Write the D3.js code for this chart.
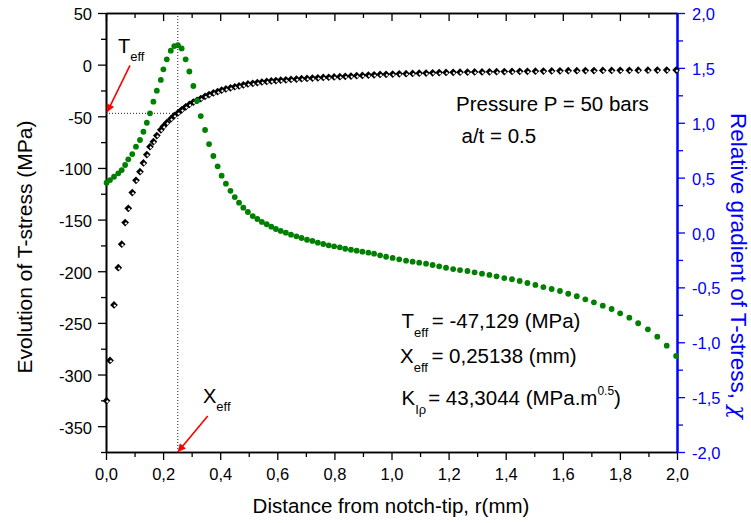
<!DOCTYPE html>
<html><head><meta charset="utf-8">
<script src="https://cdn.jsdelivr.net/npm/d3@7"></script>
<style>
body{margin:0;background:#fff}
text{font-family:"Liberation Sans",Arial,sans-serif}
</style>
</head><body>
<svg id="c" width="751" height="523"></svg>
<script>
// ---- data ----
const rValues = [0.002,0.014,0.028,0.043,0.055,0.067,0.078,0.092,0.105,0.119,0.131,0.143,0.154,0.166,0.178,0.192,0.201,0.213,
  0.227,0.239,0.252,0.265,0.279,0.292,0.306,0.319,0.332,0.347,0.361,0.376,0.391,0.405,0.420,0.436,0.451,0.466,0.481,0.497,0.514,0.530,
  0.546,0.563,0.579,0.595,0.612,0.630,0.648,0.667,0.685,0.704,0.723,0.742,0.761,0.780,0.799,0.819,0.838,0.858,0.878,0.898,0.919,0.939,
  0.960,0.981,1.004,1.027,1.051,1.074,1.097,1.121,1.144,1.167,1.191,1.216,1.240,1.266,1.291,1.317,1.343,1.368,1.395,1.422,
  1.449,1.476,1.504,1.532,1.561,1.590,1.619,1.649,1.679,1.709,1.740,1.771,1.801,1.833,1.864,1.898,1.931,1.964,1.997];
const tStress = [-325.3,-286.3,-232.6,-196.6,-173.8,-152.9,-139.1,-123.8,-112.0,-103.6,-95.2,-87.0,-79.4,-74.6,-68.6,-63.1,-59.8,-56.2,
  -52.5,-49.3,-46.7,-43.7,-40.8,-38.5,-36.2,-34.5,-32.8,-30.6,-29.0,-27.4,-26.1,-24.7,-23.5,-22.4,-21.4,-20.6,-19.7,-18.7,-18.1,-17.4,
  -16.8,-16.3,-15.8,-15.4,-15.1,-14.7,-14.3,-13.9,-13.6,-13.3,-13.0,-12.7,-12.4,-12.2,-11.9,-11.6,-11.3,-11.0,-10.7,-10.4,-10.1,-9.8,
  -9.5,-9.3,-9.1,-8.9,-8.7,-8.5,-8.3,-8.1,-7.9,-7.7,-7.5,-7.4,-7.3,-7.2,-7.1,-7.0,-6.9,-6.8,-6.7,-6.6,
  -6.5,-6.4,-6.3,-6.2,-6.1,-6.0,-5.9,-5.8,-5.7,-5.7,-5.6,-5.6,-5.5,-5.5,-5.4,-5.4,-5.3,-5.3,-5.2];
const chiGradient = [0.454,0.478,0.508,0.539,0.569,0.615,0.667,0.715,0.782,0.843,0.918,1.000,1.086,1.192,1.292,1.390,1.487,1.578,
  1.657,1.699,1.706,1.677,1.578,1.467,1.335,1.201,1.061,0.934,0.806,0.697,0.603,0.518,0.445,0.380,0.323,0.272,0.226,0.187,0.150,0.123,
  0.096,0.075,0.053,0.032,0.014,-0.002,-0.020,-0.035,-0.050,-0.066,-0.077,-0.093,-0.105,-0.117,-0.126,-0.135,-0.148,-0.157,-0.166,-0.175,-0.184,-0.193,
  -0.208,-0.221,-0.232,-0.244,-0.257,-0.266,-0.275,-0.284,-0.296,-0.308,-0.321,-0.333,-0.342,-0.351,-0.363,-0.375,-0.387,-0.399,-0.415,-0.426,
  -0.442,-0.460,-0.478,-0.497,-0.515,-0.533,-0.558,-0.581,-0.609,-0.636,-0.667,-0.697,-0.736,-0.776,-0.827,-0.882,-0.949,-1.031,-1.125];
const xTickValues = [0,0.2,0.4,0.6,0.8,1.0,1.2,1.4,1.6,1.8,2.0];
const xMinorValues = [0.1,0.3,0.5,0.7,0.9,1.1,1.3,1.5,1.7,1.9];
const yLeftTicks = [-350,-300,-250,-200,-150,-100,-50,0,50];
const yLeftMinor = [-375,-325,-275,-225,-175,-125,-75,-25,25];
const yRightTicks = [-2,-1.5,-1,-0.5,0,0.5,1,1.5,2];
const yRightMinor = [-1.75,-1.25,-0.75,-0.25,0.25,0.75,1.25,1.75];
const tEff = -47.129, xEff = 0.25138;

// ---- layout ----
const P = {l:106, r:677, t:13, b:452};
const x = d3.scaleLinear().domain([0,2]).range([P.l,P.r]);
const yL = d3.scaleLinear().domain([-375,50]).range([P.b,P.t]);
const yR = d3.scaleLinear().domain([-2,2]).range([P.b,P.t]);
const svg = d3.select('#c');
const fmt1 = d => d3.format('.1f')(d).replace('.',',').replace('\u2212','-');
const fmt0 = d => String(d);
const blue = '#0000ff', green = '#008000';
const TF = 16.5;

function styleAxis(g, color, fs){
  g.select('.domain').attr('stroke',color).attr('stroke-width',1.6);
  g.selectAll('.tick line').attr('stroke',color).attr('stroke-width',1.3);
  g.selectAll('.tick text').attr('fill',color).style('font-size',fs+'px')
    .style('font-family','"Liberation Sans",Arial,sans-serif');
}

// bottom axis
let g = svg.append('g').attr('transform',`translate(0,${P.b})`)
  .call(d3.axisBottom(x).tickValues(xTickValues).tickSize(8).tickSizeOuter(0).tickPadding(8).tickFormat(fmt1));
styleAxis(g,'#000',TF);
g = svg.append('g').attr('transform',`translate(0,${P.b})`)
  .call(d3.axisBottom(x).tickValues(xMinorValues).tickSize(5).tickSizeOuter(0).tickFormat(''));
styleAxis(g,'#000',TF);
// top axis (inward ticks)
g = svg.append('g').attr('transform',`translate(0,${P.t})`)
  .call(d3.axisBottom(x).tickValues(xTickValues).tickSize(8).tickSizeOuter(0).tickFormat(''));
styleAxis(g,'#000',TF);
g = svg.append('g').attr('transform',`translate(0,${P.t})`)
  .call(d3.axisBottom(x).tickValues(xMinorValues).tickSize(5).tickSizeOuter(0).tickFormat(''));
styleAxis(g,'#000',TF);
// left axis
g = svg.append('g').attr('transform',`translate(${P.l},0)`)
  .call(d3.axisLeft(yL).tickValues(yLeftTicks).tickSize(8).tickSizeOuter(0).tickPadding(6).tickFormat(fmt0));
styleAxis(g,'#000',TF);
g.selectAll('.tick text').attr('dy','0.42em');
g = svg.append('g').attr('transform',`translate(${P.l},0)`)
  .call(d3.axisLeft(yL).tickValues(yLeftMinor).tickSize(5).tickSizeOuter(0).tickFormat(''));
styleAxis(g,'#000',TF);
// right axis (blue)
g = svg.append('g').attr('transform',`translate(${P.r},0)`)
  .call(d3.axisRight(yR).tickValues(yRightTicks).tickSize(8).tickSizeOuter(0).tickPadding(7).tickFormat(fmt1));
styleAxis(g,blue,TF);
g.select('.domain').attr('stroke-width',2);
g.selectAll('.tick text').attr('dy','0.4em');
g = svg.append('g').attr('transform',`translate(${P.r},0)`)
  .call(d3.axisRight(yR).tickValues(yRightMinor).tickSize(6).tickSizeOuter(0).tickFormat(''));
styleAxis(g,blue,TF);
g.select('.domain').attr('stroke-width',2);

// dotted guide lines
svg.append('line').attr('x1',x(xEff)).attr('x2',x(xEff)).attr('y1',yL(50)).attr('y2',yL(-375))
  .attr('stroke','#222').attr('stroke-width',1).attr('stroke-dasharray','1,2');
svg.append('line').attr('x1',x(0)).attr('x2',x(xEff)).attr('y1',yL(tEff)).attr('y2',yL(tEff))
  .attr('stroke','#222').attr('stroke-width',1).attr('stroke-dasharray','1,2');

// T-stress diamonds
const pts = rValues.map((r,i)=>({r, t:tStress[i], c:chiGradient[i]}));
const outer = d3.symbol().type(d3.symbolSquare).size(30)();
const inner = d3.symbol().type(d3.symbolSquare).size(4)();
const dg = svg.append('g');
dg.selectAll('path.o').data(pts).join('path').attr('class','o').attr('d',outer)
  .attr('transform',d=>`translate(${x(d.r)},${yL(d.t)}) rotate(45)`).attr('fill','#000');
dg.selectAll('path.i').data(pts).join('path').attr('class','i').attr('d',inner)
  .attr('transform',d=>`translate(${x(d.r)+0.8},${yL(d.t)+0.8}) rotate(45)`).attr('fill','#fff');

// relative gradient circles
svg.append('g').selectAll('circle').data(pts).join('circle')
  .attr('cx',d=>x(d.r)).attr('cy',d=>yR(d.c)).attr('r',2.9).attr('fill',green);

// axis titles
svg.append('text').attr('x',391).attr('y',513).attr('text-anchor','middle')
  .style('font-size','20.5px').text('Distance from notch-tip, r(mm)');
svg.append('text').attr('transform','translate(32,247) rotate(-90)').attr('text-anchor','middle')
  .style('font-size','21px').text('Evolution of T-stress (MPa)');
const rt = svg.append('text').attr('transform','translate(731,266) rotate(90)').attr('text-anchor','middle')
  .attr('fill',blue).style('font-size','22.5px');
rt.append('tspan').text('Relative gradient of T-stress, ');
rt.append('tspan').style('font-family','"DejaVu Serif",serif').style('font-style','italic').text('\u03C7');

// arrows
const defs = svg.append('defs');
defs.append('marker').attr('id','ah').attr('viewBox','0 0 10 10').attr('refX',10).attr('refY',5)
  .attr('markerWidth',10).attr('markerHeight',8).attr('markerUnits','userSpaceOnUse').attr('orient','auto')
  .append('path').attr('d','M0,0 L10,5 L0,10 Z').attr('fill','#ff0000');
function arrow(tx,ty,dx,dy){
  svg.append('line').attr('x1',tx+dx).attr('y1',ty+dy).attr('x2',tx).attr('y2',ty)
    .attr('stroke','#ff0000').attr('stroke-width',1.6).attr('marker-end','url(#ah)');
}
arrow(x(0)+1, yL(tEff)-1, 23, -47);
arrow(x(xEff), yL(-375), 30, -36);

// labels
function subLabel(xp, yp, main, sub, rest, fs, sfs, sdy){
  const t = svg.append('text').attr('x',xp).attr('y',yp).style('font-size',fs+'px');
  t.append('tspan').text(main);
  t.append('tspan').attr('dy',sdy).style('font-size',sfs+'px').text(sub);
  if (rest) t.append('tspan').attr('dy',-sdy).attr('dx',3.5).text(rest);
  return t;
}
subLabel(118, 53, 'T', 'eff', null, 20, 13, 8);
subLabel(203, 403, 'X', 'eff', null, 20, 13, 8);

svg.append('text').attr('x',456).attr('y',110.5).style('font-size','20.5px').text('Pressure P = 50 bars');
svg.append('text').attr('x',461.5).attr('y',142.5).style('font-size','20.5px').text('a/t = 0.5');

subLabel(401.5, 327.5, 'T', 'eff', '= -47,129 (MPa)', 20.5, 13, 9);
subLabel(400, 363, 'X', 'eff', '= 0,25138 (mm)', 20.5, 13, 9);
const k = subLabel(401.5, 405, 'K', 'I\u03C1', null, 20.5, 13, 9);
k.append('tspan').attr('dy',-9).attr('dx',2).text('= 43,3044 (MPa.m');
k.append('tspan').attr('dy',-10).style('font-size','12px').text('0.5');
k.append('tspan').attr('dy',10).text(')');
</script>
</body></html>
